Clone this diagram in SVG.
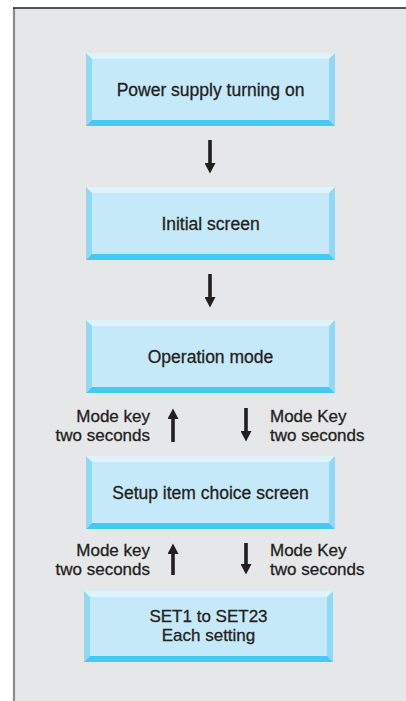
<svg xmlns="http://www.w3.org/2000/svg" width="406" height="701" viewBox="0 0 406 701">
<style>
.face{fill:#c6e9f9}
.bt{fill:#dff3fc}
.bl{fill:#8fd9f6}
.br{fill:#8fd9f6}
.bb{fill:#44c8f4}
text{font-family:"Liberation Sans",Arial,sans-serif;font-size:17px;fill:#231f20;stroke:#231f20;stroke-width:0.3}
.c{text-anchor:middle;font-size:17.5px}
.c2{text-anchor:middle}
.e{text-anchor:end}
.arr{stroke:#231f20;stroke-width:3.6;fill:none}
</style>
<defs>
<marker id="ah" markerUnits="userSpaceOnUse" markerWidth="11" markerHeight="11" refX="0" refY="5.5" orient="auto">
<path d="M0,0 L10.5,5.5 L0,11 z" fill="#231f20"/>
</marker>
</defs>
<rect x="14" y="8" width="392" height="693" fill="#e6e7e9"/>
<line x1="14" y1="8" x2="14" y2="701" stroke="#8a8a8a" stroke-width="2.2"/>
<line x1="13" y1="8" x2="406" y2="8" stroke="#231f20" stroke-width="1.5"/>

<g id="n1">
<polygon class="bt" points="86,53 335,53 329,59 92,59"/>
<polygon class="bl" points="86,53 92,59 92,120 86,126"/>
<polygon class="br" points="335,53 335,126 329,120 329,59"/>
<polygon class="bb" points="86,126 92,120 329,120 335,126"/>
<rect class="face" x="92" y="59" width="237" height="61"/>
<text class="c" x="210.5" y="96">Power supply turning on</text>
</g>
<g id="n2">
<polygon class="bt" points="86,187 335,187 329,193 92,193"/>
<polygon class="bl" points="86,187 92,193 92,254 86,260"/>
<polygon class="br" points="335,187 335,260 329,254 329,193"/>
<polygon class="bb" points="86,260 92,254 329,254 335,260"/>
<rect class="face" x="92" y="193" width="237" height="61"/>
<text class="c" x="210.5" y="230">Initial screen</text>
</g>
<g id="n3">
<polygon class="bt" points="86,320 335,320 329,326 92,326"/>
<polygon class="bl" points="86,320 92,326 92,387 86,393"/>
<polygon class="br" points="335,320 335,393 329,387 329,326"/>
<polygon class="bb" points="86,393 92,387 329,387 335,393"/>
<rect class="face" x="92" y="326" width="237" height="61"/>
<text class="c" x="210.5" y="363">Operation mode</text>
</g>
<g id="n4">
<polygon class="bt" points="86,456 335,456 329,462 92,462"/>
<polygon class="bl" points="86,456 92,462 92,523 86,529"/>
<polygon class="br" points="335,456 335,529 329,523 329,462"/>
<polygon class="bb" points="86,529 92,523 329,523 335,529"/>
<rect class="face" x="92" y="462" width="237" height="61"/>
<text class="c" x="210.5" y="499">Setup item choice screen</text>
</g>
<g id="n5">
<polygon class="bt" points="84,591 333,591 327,597 90,597"/>
<polygon class="bl" points="84,591 90,597 90,656 84,662"/>
<polygon class="br" points="333,591 333,662 327,656 327,597"/>
<polygon class="bb" points="84,662 90,656 327,656 333,662"/>
<rect class="face" x="90" y="597" width="237" height="59"/>
<text class="c2" x="208.5" y="622">SET1 to SET23</text>
<text class="c2" x="208.5" y="641">Each setting</text>
</g>

<g id="connectors">
<line class="arr" x1="210" y1="140" x2="210" y2="163" marker-end="url(#ah)"/>
<line class="arr" x1="210" y1="274" x2="210" y2="297" marker-end="url(#ah)"/>
<line class="arr" x1="173" y1="442" x2="173" y2="419" marker-end="url(#ah)"/>
<line class="arr" x1="246" y1="408" x2="246" y2="431" marker-end="url(#ah)"/>
<line class="arr" x1="173" y1="575" x2="173" y2="554" marker-end="url(#ah)"/>
<line class="arr" x1="246" y1="543" x2="246" y2="564" marker-end="url(#ah)"/>
</g>

<g id="labels">
<text class="e" x="150" y="422">Mode key</text>
<text class="e" x="150" y="441">two seconds</text>
<text x="270" y="422">Mode Key</text>
<text x="270" y="441">two seconds</text>
<text class="e" x="150" y="556">Mode key</text>
<text class="e" x="150" y="575">two seconds</text>
<text x="270" y="556">Mode Key</text>
<text x="270" y="575">two seconds</text>
</g>
</svg>
